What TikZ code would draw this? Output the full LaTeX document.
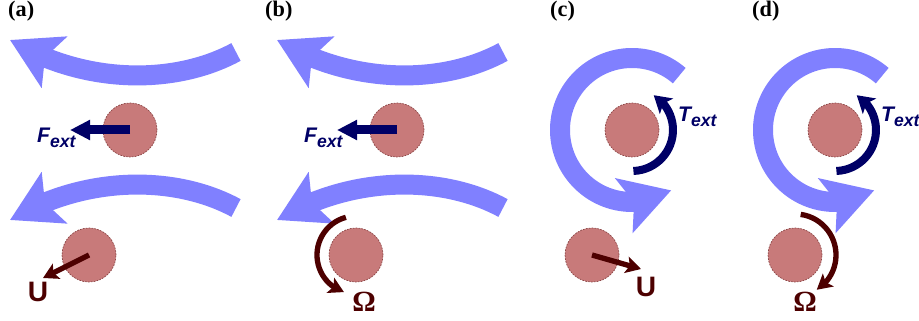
\documentclass[tikz,border=0pt]{standalone}
\usepackage{fontspec}
\setmainfont{Liberation Serif}
\setsansfont{Liberation Sans}
\usetikzlibrary{arrows.meta,bending}

\definecolor{flowblue}{RGB}{128,128,255}
\definecolor{partred}{RGB}{200,122,122}
\definecolor{partedge}{RGB}{140,70,70}
\definecolor{forcenavy}{RGB}{0,0,102}
\definecolor{motionred}{RGB}{77,0,0}

\begin{document}
\begin{tikzpicture}[
    x=0.03cm, y=0.03cm,
    panel/.style={anchor=base west, inner sep=0pt, font=\fontsize{19}{19}\selectfont\bfseries},
    particle/.style={circle, fill=partred, draw=partedge, line width=0.6pt, dash pattern=on 1.5pt off 1pt, minimum size=1.62cm, inner sep=0pt},
    flow/.style={flowblue, line width=0.6cm, -{Stealth[flex, length=1.47cm, width=1.68cm, inset=0.3cm]}},
    force/.style={forcenavy, line width=0.27cm, -{Triangle[length=0.6cm, width=0.57cm]}},
    torque/.style={forcenavy, line width=0.24cm, -{Stealth[flex, length=0.5cm, width=0.6cm, inset=0.12cm]}},
    motion/.style={motionred, line width=0.16cm, -{Stealth[flex, length=0.45cm, width=0.5cm, inset=0.1cm]}},
    vlabel/.style={inner sep=0pt, anchor=base west, forcenavy, font=\sffamily\bfseries\itshape},
    mlabel/.style={inner sep=0pt, anchor=base, motionred}
]
\useasboundingbox (0,0) rectangle (919,-321);

% panel labels
\node[panel] (la) at (8,-17) {(a)};
\node[panel] (lb) at (265,-17) {(b)};
\node[panel] (lc) at (550,-17) {(c)};
\node[panel] (ld) at (752,-17) {(d)};

% shear flow (a), (b)
\draw[flow] (236,-52) .. controls (175,-85) and (85,-85) .. (10,-40);
\draw[flow] (236,-208) .. controls (175,-175) and (85,-175) .. (10,-220);
\draw[flow] (503,-52) .. controls (442,-85) and (352,-85) .. (277,-40);
\draw[flow] (503,-208) .. controls (442,-175) and (352,-175) .. (277,-220);

% particles
\node[particle] (pa) at (130,-130) {};
\node[particle] (pa2) at (89,-255) {};
\node[particle] (pb) at (397,-130) {};
\node[particle] (pb2) at (356,-255) {};
\node[particle] (pc) at (632,-130) {};
\node[particle] (pc2) at (592,-255) {};
\node[particle] (pd) at (835,-130) {};
\node[particle] (pd2) at (795,-255) {};

% rotating flow (c), (d)
\draw[flow] ([shift={(49:72)}]pc.center) arc[start angle=49, end angle=303, radius=72];
\draw[flow] ([shift={(49:72)}]pd.center) arc[start angle=49, end angle=303, radius=72];

% external force and torque
\coordinate (fa) at (70,-130);
\coordinate (fb) at (337,-130);
\draw[force] (pa.center) -- (fa);
\draw[force] (pb.center) -- (fb);
\draw[torque] ([shift={(272:41)}]pc.center) arc[start angle=272, end angle=418, radius=41];
\draw[torque] ([shift={(272:41)}]pd.center) arc[start angle=272, end angle=418, radius=41];

\node[vlabel] (tfa) at (37,-143) {{\fontsize{18}{18}\selectfont F}\raisebox{-3.5pt}{\fontsize{15}{15}\selectfont ext}};
\node[vlabel] (tfb) at (304,-143) {{\fontsize{18}{18}\selectfont F}\raisebox{-3.5pt}{\fontsize{15}{15}\selectfont ext}};
\node[vlabel] (ttc) at (678,-122) {{\fontsize{18}{18}\selectfont T}\raisebox{-3.5pt}{\fontsize{15}{15}\selectfont ext}};
\node[vlabel] (ttd) at (881,-122) {{\fontsize{18}{18}\selectfont T}\raisebox{-3.5pt}{\fontsize{15}{15}\selectfont ext}};

% particle response
\coordinate (ua) at (43,-278);
\coordinate (uc) at (641,-269);
\draw[motion] (pa2.center) -- (ua);
\draw[motion] (pc2.center) -- (uc);
\draw[motion] ([shift={(105:39)}]pb2.center) arc[start angle=105, end angle=252, radius=39];
\draw[motion] ([shift={(82:41)}]pd2.center) arc[start angle=82, end angle=-58, radius=41];

\node[mlabel, font=\sffamily\bfseries\fontsize{24}{24}\selectfont] (tua) at (38,-302) {U};
\node[mlabel, font=\sffamily\bfseries\fontsize{24}{24}\selectfont] (tuc) at (646,-297) {U};
\node[mlabel, font=\bfseries\fontsize{25}{25}\selectfont] (twb) at (364,-312) {Ω};
\node[mlabel, font=\bfseries\fontsize{25}{25}\selectfont] (twd) at (805,-312) {Ω};

\end{tikzpicture}
\end{document}
